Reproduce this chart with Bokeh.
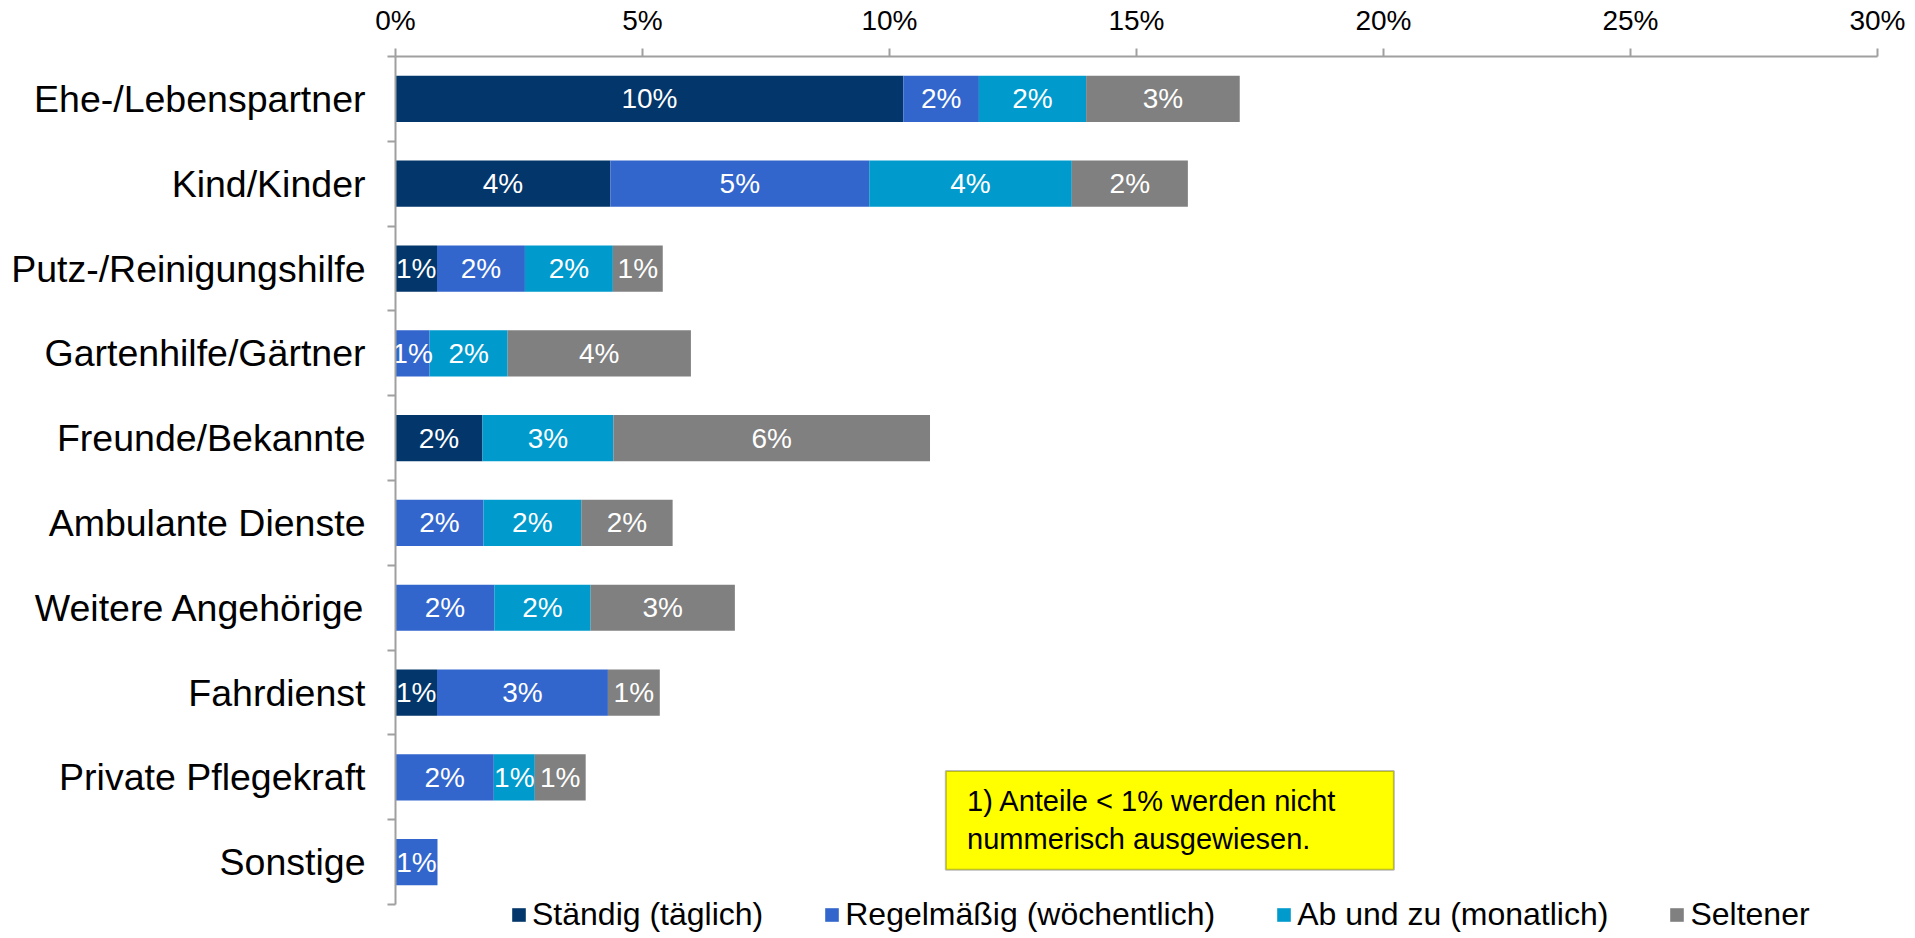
from bokeh.plotting import figure
from bokeh.models import (ColumnDataSource, Range1d, LinearAxis, FixedTicker,
                          PrintfTickFormatter, CustomJSTickFormatter, BoxAnnotation, Label)
from bokeh.core.properties import value
from bokeh.embed import file_html
from bokeh.resources import INLINE

# ---------------- data ----------------
categories = ["Ehe-/Lebenspartner", "Kind/Kinder", "Putz-/Reinigungshilfe",
              "Gartenhilfe/Gärtner", "Freunde/Bekannte", "Ambulante Dienste",
              "Weitere Angehörige", "Fahrdienst", "Private Pflegekraft", "Sonstige"]
staendig = [10.28, 4.35, 0.84, 0.0, 1.76, 0.0, 0.0, 0.84, 0.0, 0.0]
regelmaessig = [1.53, 5.24, 1.78, 0.69, 0.0, 1.78, 2.00, 3.46, 1.99, 0.85]
ab_und_zu = [2.17, 4.10, 1.78, 1.58, 2.65, 1.98, 1.95, 0.0, 0.83, 0.0]
seltener = [3.11, 2.35, 1.01, 3.71, 6.41, 1.85, 2.92, 1.05, 1.03, 0.0]
series_names = ["Ständig (täglich)", "Regelmäßig (wöchentlich)",
                "Ab und zu (monatlich)", "Seltener"]
x_ticks = [0, 5, 10, 15, 20, 25, 30]
footnote = "1) Anteile < 1% werden nicht\nnummerisch ausgewiesen."

colors = ["#03366A", "#3366CC", "#009ACD", "#808080"]
FONT = "Liberation Sans"
AXIS_GRAY = "#A0A0A0"

series = [staendig, regelmaessig, ab_und_zu, seltener]
n = len(categories)
ypos = [n - i - 0.5 for i in range(n)]
keys = ["s0", "s1", "s2", "s3"]
data = {"y": ypos, "cat": categories}
for k, s in zip(keys, series):
    data[k] = s
source = ColumnDataSource(data)

# the frame reaches down below the last category to leave room for the legend
p = figure(width=1910, height=938, x_range=Range1d(0, 30), y_range=Range1d(-0.4, n),
           x_axis_location="above", y_axis_type=None,
           output_backend="svg", toolbar_location=None,
           min_border_left=395, min_border_right=33, min_border_top=56, min_border_bottom=0)
p.outline_line_color = None
p.xgrid.visible = False
p.ygrid.visible = False
p.background_fill_color = "white"
p.border_fill_color = "white"

p.hbar_stack(keys, y="y", height=0.545, color=colors, line_color=None,
             source=source, legend_label=series_names)

# value labels
lx, ly, lt = [], [], []
for j in range(n):
    cum = 0.0
    for s in series:
        v = s[j]
        if v >= 0.5:
            lx.append(cum + v / 2)
            ly.append(ypos[j])
            lt.append(f"{round(v)}%")
        cum += v
lsrc = ColumnDataSource(dict(x=lx, y=ly, t=lt))
p.text(x="x", y="y", text="t", source=lsrc, text_align="center", text_baseline="middle",
       text_color="white", text_font=value(FONT), text_font_size="28px")

# top x axis
xa = p.xaxis[0]
xa.ticker = FixedTicker(ticks=x_ticks)
xa.formatter = PrintfTickFormatter(format="%d%%")
xa.major_label_text_font = FONT
xa.major_label_text_font_size = "28px"
xa.major_label_text_color = "black"
xa.axis_line_color = AXIS_GRAY
xa.axis_line_width = 2
xa.major_tick_line_color = AXIS_GRAY
xa.major_tick_line_width = 2
xa.major_tick_in = 0
xa.major_tick_out = 8
xa.minor_tick_line_color = None
xa.major_label_standoff = 13

# left axis with ticks between categories
ya = LinearAxis(ticker=FixedTicker(ticks=list(range(n + 1))), bounds=(0, n),
                formatter=CustomJSTickFormatter(code="return '';"),
                axis_line_color=AXIS_GRAY, axis_line_width=2,
                major_tick_line_color=AXIS_GRAY, major_tick_line_width=2,
                major_tick_in=0, major_tick_out=8, minor_tick_line_color=None,
                major_label_text_font_size="0px", major_label_standoff=0)
p.add_layout(ya, "left")

# left axis with category labels
yl = LinearAxis(ticker=FixedTicker(ticks=ypos), bounds=(0, n),
                formatter=CustomJSTickFormatter(args=dict(cats=categories),
                    code="const i = Math.round(cats.length - 0.5 - tick); return cats[i] || '';"),
                axis_line_color=None, major_tick_line_color=None, minor_tick_line_color=None,
                major_tick_in=0, major_tick_out=0,
                major_label_text_font=FONT, major_label_text_font_size="37.5px",
                major_label_text_color="black", major_label_standoff=22)
p.add_layout(yl, "left")

# footnote box
p.add_layout(BoxAnnotation(left=11.14, right=20.21, bottom=0.41, top=1.575,
                           fill_color="#FFFF00", fill_alpha=1.0,
                           line_color="#222222", line_width=2))
p.add_layout(Label(x=11.57, y=1.0, text=footnote, text_font=FONT, text_font_size="29px",
                   text_color="black", text_baseline="middle", text_align="left",
                   text_line_height=1.2))

# legend
lg = p.legend[0]
lg.orientation = "horizontal"
lg.location = (115, 5)
lg.label_text_font = FONT
lg.label_text_font_size = "32px"
lg.label_text_color = "black"
lg.glyph_width = 17
lg.glyph_height = 17
lg.label_standoff = 5
lg.spacing = 60
lg.padding = 0
lg.margin = 0
lg.border_line_color = None
lg.background_fill_alpha = 0

open("out.html", "w").write(file_html(p, INLINE))
